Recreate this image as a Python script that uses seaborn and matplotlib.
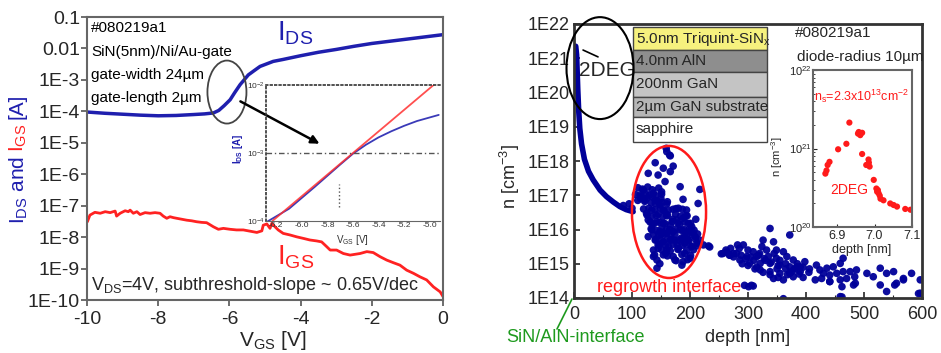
import numpy as np
import pandas as pd
import matplotlib
matplotlib.use("Agg")
import matplotlib.pyplot as plt
import seaborn as sns
from matplotlib.patches import Ellipse, Rectangle, FancyArrowPatch
from matplotlib.lines import Line2D

sns.set_style("ticks")
plt.rcParams["font.family"] = ["Liberation Sans", "DejaVu Sans"]
plt.rcParams["mathtext.default"] = "regular"

# ---------------- left panel data ----------------
ids_v = [-10, -9.5, -9, -8.5, -8, -7.5, -7, -6.7, -6.45, -6.3, -6.15, -5.98, -5.85, -5.7,
         -5.47, -5.3, -5.14, -4.77, -4.5, -4.0, -3.5, -3.0, -2.5, -2.0, -1.5, -1.0, -0.5, 0]
ids_log = [-4.02, -4.06, -4.09, -4.12, -4.14, -4.13, -4.10, -4.08, -4.05, -3.97, -3.82, -3.63,
           -3.40, -3.15, -2.84, -2.70, -2.57, -2.41, -2.35, -2.23, -2.12, -2.03, -1.93, -1.84,
           -1.77, -1.70, -1.63, -1.56]

igs_v = [-9.99, -9.92, -9.78, -9.63, -9.49, -9.35, -9.21, -9.17, -9.07, -8.93, -8.84, -8.79,
         -8.70, -8.60, -8.51, -8.37, -8.23, -8.09, -7.95, -7.86, -7.76, -7.67, -7.57, -7.48,
         -7.34, -7.20, -7.06, -6.92, -6.78, -6.64, -6.45, -6.31, -6.17, -5.98, -5.80, -5.61,
         -5.42, -5.23, -5.09, -5.05, -4.95, -4.86, -4.81, -4.72, -4.63, -4.49, -4.30, -4.11,
         -3.92, -3.74, -3.55, -3.41, -3.27, -3.17, -2.99, -2.80, -2.61, -2.33, -2.14, -1.96,
         -1.77, -1.58, -1.40, -1.21, -1.02, -0.83, -0.65, -0.46, -0.27, -0.08, 0.0]
igs_log = [-7.51, -7.30, -7.21, -7.24, -7.19, -7.22, -7.17, -7.33, -7.24, -7.16, -7.19, -7.14,
           -7.24, -7.19, -7.28, -7.22, -7.24, -7.22, -7.24, -7.33, -7.40, -7.35, -7.38, -7.40,
           -7.43, -7.46, -7.48, -7.51, -7.53, -7.54, -7.67, -7.75, -7.72, -7.75, -7.77, -7.77,
           -7.81, -7.85, -7.80, -7.62, -7.58, -7.72, -7.56, -7.67, -7.77, -7.88, -7.93, -7.99,
           -8.04, -8.09, -8.12, -8.15, -8.30, -8.41, -8.41, -8.52, -8.57, -8.52, -8.46, -8.49,
           -8.62, -8.73, -8.81, -8.89, -9.05, -9.15, -9.26, -9.36, -9.58, -9.74, -9.89]

left_yticks = [1e-1, 1e-2, 1e-3, 1e-4, 1e-5, 1e-6, 1e-7, 1e-8, 1e-9, 1e-10]
left_ylabels = ["0.1", "0.01", "1E-3", "1E-4", "1E-5", "1E-6", "1E-7", "1E-8", "1E-9", "1E-10"]
left_xticks = [-10, -8, -6, -4, -2, 0]

# inset (left) data
ins_fit_v = [-6.23, -4.97]
ins_fit_log = [-4.0, -2.0]
ins_ids_v = [-6.28, -6.1, -5.9, -5.7, -5.6, -5.5, -5.4, -5.3, -5.2, -5.1, -4.93]
ins_ids_log = [-4.02, -3.82, -3.50, -3.17, -3.01, -2.88, -2.77, -2.68, -2.60, -2.53, -2.44]
ins_xticks = [-6.2, -6.0, -5.8, -5.6, -5.4, -5.2, -5.0]

# ---------------- right panel data ----------------
curve_depth = [3, 4.5, 5.5, 6.5, 8, 10, 13, 18, 25, 33, 45, 56, 68, 79, 90, 102]
curve_log = [21.35, 21.1, 20.6, 20.1, 19.5, 18.95, 18.5, 18.05, 17.7, 17.45, 17.15, 16.96,
             16.8, 16.67, 16.58, 16.52]

cluster_depth = [160, 166, 140, 154, 171, 128, 145, 166, 157, 183, 217, 214, 188, 120, 114, 122,
                 137, 151, 140, 148, 154, 134, 125, 171, 180, 194, 128, 143, 154, 166, 177, 188,
                 197, 203, 134, 148, 160, 171, 183, 194, 209, 217, 128, 140, 154, 166, 180, 191,
                 203, 212, 180, 191, 200, 188, 171, 154, 137, 145, 232, 223, 143, 137, 160, 174,
                 186, 145, 160, 175, 190, 165, 150, 135, 185, 200, 125, 135, 160, 170, 155, 195,
                 205, 178, 163, 145, 210, 120, 115, 140, 150, 130, 158, 148, 168, 182, 197,
                 85, 95, 100, 110, 159, 165,
                 110, 118, 127, 135, 146, 106, 116, 124, 141, 151, 122, 133, 143, 152, 161,
                 129, 139, 149, 163, 176, 187, 126, 134, 142, 153, 161, 184, 193,
                 131, 138, 147, 157, 169, 179, 191, 201, 133, 141, 151, 159, 175, 187, 199, 207,
                 137, 146, 156, 167, 174, 191, 204, 213, 141, 151, 161, 173, 186, 197, 209,
                 147, 158, 171, 187, 199, 211, 151, 166, 179, 194, 206, 139, 161, 186, 201,
                 143, 176, 196]
cluster_log = [18.27, 18.15, 17.95, 17.79, 17.85, 17.64, 17.59, 17.69, 17.40, 17.25, 17.17, 16.76,
               16.88, 17.15, 17.01, 16.86, 17.06, 17.10, 16.76, 16.72, 16.57, 16.57, 16.47, 16.59,
               16.62, 16.57, 16.28, 16.23, 16.18, 16.13, 16.28, 16.33, 16.18, 16.08, 15.99, 15.94,
               15.89, 15.94, 15.99, 15.84, 15.79, 15.69, 15.79, 15.69, 15.64, 15.69, 15.69, 15.60,
               15.50, 15.60, 15.45, 15.30, 15.16, 15.06, 15.21, 15.26, 15.21, 15.45, 15.52, 15.55,
               14.87, 15.40, 15.40, 15.11, 14.96, 16.45, 16.40, 16.45, 16.00, 16.00, 15.85, 16.15,
               15.75, 15.95, 16.90, 16.95, 16.75, 16.30, 16.55, 16.40, 15.90, 15.55, 15.50, 15.55,
               16.30, 16.60, 16.90, 16.85, 16.90, 17.00, 15.30, 15.00, 15.70, 16.15, 15.70,
               16.70, 16.75, 16.62, 16.85, 18.37, 18.17,
               17.22, 17.18, 17.24, 17.16, 17.21, 17.02, 16.97, 17.04, 16.99, 17.03, 16.82,
               16.78, 16.84, 16.79, 16.81, 16.62, 16.58, 16.63, 16.57, 16.61, 16.59, 16.42,
               16.38, 16.41, 16.37, 16.43, 16.39, 16.41, 16.22, 16.18, 16.21, 16.17, 16.23,
               16.19, 16.22, 16.18, 16.02, 15.98, 16.03, 15.99, 16.01, 15.97, 16.02, 15.98,
               15.86, 15.83, 15.87, 15.84, 15.86, 15.82, 15.85, 15.87, 15.71, 15.68, 15.72,
               15.69, 15.71, 15.68, 15.72, 15.56, 15.53, 15.57, 15.54, 15.56, 15.52, 15.41,
               15.38, 15.42, 15.39, 15.41, 15.26, 15.23, 15.27, 15.24, 15.11, 15.09, 15.12]

tail_depth = [338, 372, 344, 326, 292, 309, 324, 332, 349, 361, 298, 315, 335, 349, 367, 378,
              286, 303, 321, 338, 355, 372, 390, 398, 321, 338, 355, 372, 390, 344, 361, 378,
              418, 424, 436, 447, 459, 464, 430, 441, 453, 464, 476, 487, 416, 427, 441, 459,
              470, 484, 482, 459, 505, 516, 528, 539, 551, 568, 582, 528, 539, 553, 568, 597,
              597, 301, 309, 234, 254, 263, 275, 361, 462, 294, 306, 594,
              280, 290, 300, 310, 320, 330, 345, 355, 365, 380, 395, 405, 315, 350, 385, 268, 285,
              262, 275, 288, 296, 305, 318, 328, 340, 352, 365, 376, 388, 300, 312, 326, 338,
              352, 368, 395, 406, 270, 282, 257, 269, 384, 441, 462, 485, 556]
tail_log = [16.03, 15.84, 15.64, 15.69, 15.55, 15.35, 15.50, 15.40, 15.40, 15.35, 15.21, 15.21,
            15.21, 15.16, 15.21, 15.11, 15.11, 15.01, 15.01, 15.01, 14.96, 14.91, 14.91, 15.06,
            14.82, 14.77, 14.72, 14.72, 14.77, 14.57, 14.53, 14.62, 14.96, 14.82, 14.87, 14.91,
            15.01, 15.16, 14.72, 14.67, 14.72, 14.77, 14.77, 14.82, 14.53, 14.57, 14.48, 14.53,
            14.57, 14.62, 14.38, 14.04, 14.72, 14.62, 14.87, 14.72, 14.77, 14.57, 14.72, 14.38,
            14.19, 14.38, 14.53, 14.53, 14.14, 14.33, 14.35, 15.49, 15.29, 15.34, 15.20, 13.98,
            14.03, 14.37, 14.37, 14.13,
            15.30, 15.00, 15.40, 15.10, 15.30, 15.10, 15.30, 15.10, 15.00, 14.85, 14.90, 14.75,
            14.90, 14.85, 15.00, 15.25, 15.45,
            15.40, 15.30, 15.25, 15.15, 15.20, 15.25, 15.15, 15.05, 14.95, 14.85, 14.78, 14.70,
            14.95, 14.85, 14.75, 14.68, 14.60, 14.68, 14.60, 14.85, 15.45, 15.55, 15.30, 15.25,
            14.91, 14.48, 14.33, 14.43, 14.43]

right_yticks = [1e14, 1e15, 1e16, 1e17, 1e18, 1e19, 1e20, 1e21, 1e22]
right_ylabels = ["1E14", "1E15", "1E16", "1E17", "1E18", "1E19", "1E20", "1E21", "1E22"]
right_xticks = [0, 100, 200, 300, 400, 500, 600]

# right inset data (2DEG peak)
peak_depth = [6.872, 6.869, 6.875, 6.880, 6.903, 6.925, 6.933, 6.956, 6.962, 6.967, 6.967, 6.978,
              6.984, 6.987, 6.998, 7.005, 7.007, 7.011, 7.016, 7.024, 7.042, 7.051, 7.060, 7.082,
              7.096, 6.958, 6.985, 7.009, 7.014]
peak_log = [20.72, 20.68, 20.79, 20.83, 20.99, 21.06, 21.33, 21.19, 21.17, 21.20, 20.93, 20.79,
            20.86, 20.77, 20.60, 20.49, 20.45, 20.43, 20.36, 20.34, 20.30, 20.28, 20.26, 20.23,
            20.22, 21.21, 20.82, 20.47, 20.40]

layers = ["5.0nm Triquint-SiN$_x$", "4.0nm AlN", "200nm GaN", "2\u00b5m GaN substrate", "sapphire"]
layer_colors = ["#f6f17e", "#8e8e8e", "#c4c4c4", "#b6b6b6", "#ffffff"]

BLUE = "#1f1fae"
RED = "#ff2222"
NAVY = "#000099"

fig = plt.figure(figsize=(9.41, 3.53), dpi=100)

# ================= left panel =================
axL = fig.add_axes([0.0925, 0.150, 0.3783, 0.8017])
df_ids = pd.DataFrame({"V": ids_v, "I": 10.0 ** np.array(ids_log)})
df_igs = pd.DataFrame({"V": igs_v, "I": 10.0 ** np.array(igs_log)})
sns.lineplot(data=df_ids, x="V", y="I", ax=axL, color=BLUE, lw=2.5, sort=False)
sns.lineplot(data=df_igs, x="V", y="I", ax=axL, color=RED, lw=2.0, sort=False)
axL.set_yscale("log")
axL.set_xlim(-10, 0)
axL.set_ylim(1e-10, 1e-1)
axL.set_yticks(left_yticks)
axL.set_yticklabels(left_ylabels)
axL.minorticks_off()
axL.set_xticks(left_xticks)
axL.set_xticklabels([str(t) for t in left_xticks])
axL.tick_params(labelsize=14, direction="out", length=4, width=1.2, color="#555", pad=1)
axL.tick_params(axis="x", pad=4)
for sp in axL.spines.values():
    sp.set_color("#666")
    sp.set_linewidth(1.5)
axL.set_xlabel("")
axL.set_ylabel("")

tkw = dict(transform=axL.transAxes, fontsize=11, va="center", ha="left", color="black")
axL.text(0.011, 0.961, "#080219a1", **tkw)
axL.text(0.011, 0.876, "SiN(5nm)/Ni/Au-gate", **tkw)
axL.text(0.011, 0.795, "gate-width 24\u00b5m", **tkw)
axL.text(0.011, 0.714, "gate-length 2\u00b5m", **tkw)
axL.text(0.534, 0.943, "I$_{DS}$", transform=axL.transAxes, fontsize=20, color=BLUE,
         va="center", ha="left")
axL.text(0.534, 0.152, "I$_{GS}$", transform=axL.transAxes, fontsize=20, color=RED,
         va="center", ha="left")
axL.text(0.011, 0.053, "V$_{DS}$=4V, subthreshold-slope ~ 0.65V/dec", transform=axL.transAxes,
         fontsize=13, va="center", ha="left")
axL.add_patch(Ellipse((0.393, 0.735), 0.1096, 0.2226, transform=axL.transAxes, fill=False,
                      ec="#444", lw=1.3, zorder=5))
axL.add_patch(FancyArrowPatch((-5.76, 10 ** -3.64), (-3.40, 10 ** -5.07), arrowstyle="-|>",
                              mutation_scale=12, lw=1.8, color="black", zorder=6))
fig.text(273 / 941, 1 - 341 / 353, "V$_{GS}$ [V]", fontsize=15, ha="center", va="center")

# left y-label, mixed colours
renderer = fig.canvas.get_renderer()
y0 = 1 - 224 / 353
for s, c in [("I$_{DS}$ and", BLUE), ("I$_{GS}$", RED), ("[A]", BLUE)]:
    t = fig.text(8 / 941, y0, s, rotation=90, color=c, fontsize=15, ha="left", va="bottom")
    bb = t.get_window_extent(renderer)
    y0 += bb.height / fig.bbox.height + 4 / 353

# left inset
axI = fig.add_axes([266 / 941, 1 - 221 / 353, 174 / 941, 136 / 353])
axI.patch.set_alpha(0)
df_fit = pd.DataFrame({"V": ins_fit_v, "I": 10.0 ** np.array(ins_fit_log)})
df_ins = pd.DataFrame({"V": ins_ids_v, "I": 10.0 ** np.array(ins_ids_log)})
sns.lineplot(data=df_ins, x="V", y="I", ax=axI, color="#3a3ab8", lw=1.3, sort=False)
sns.lineplot(data=df_fit, x="V", y="I", ax=axI, color="#ff3030", lw=1.3, sort=False, alpha=0.85)
axI.set_yscale("log")
axI.set_xlim(-6.28, -4.92)
axI.set_ylim(1e-4, 1e-2)
axI.axhline(1e-3, color="#555", lw=1.0, ls=(0, (4, 2, 1, 2)))
axI.plot([-5.71, -5.71], [10 ** -3.8, 10 ** -3.45], color="#555", lw=1.0, ls=":")
axI.set_yticks([1e-4, 1e-3, 1e-2])
axI.set_yticklabels(["10$^{-4}$", "10$^{-3}$", "10$^{-2}$"])
axI.minorticks_off()
axI.set_xticks(ins_xticks)
axI.set_xticklabels(["%.1f" % t for t in ins_xticks])
axI.tick_params(labelsize=6, colors="#333", length=0, pad=1)
axI.spines["right"].set_visible(False)
axI.spines["left"].set_linestyle(":")
axI.spines["top"].set_linestyle(":")
axI.spines["left"].set_color("#333")
axI.spines["top"].set_color("#333")
axI.spines["bottom"].set_color("#666")
axI.spines["left"].set_linewidth(1.2)
axI.spines["top"].set_linewidth(1.2)
axI.set_xlabel("")
axI.set_ylabel("")
fig.text(238 / 941, 1 - 149 / 353, "I$_{DS}$ [A]", rotation=90, fontsize=7, color=BLUE,
         ha="center", va="center", fontweight="bold")
fig.text(352 / 941, 1 - 240 / 353, "V$_{GS}$ [V]", fontsize=7, color="#333", ha="center",
         va="center")

# ================= right panel =================
axR = fig.add_axes([574 / 941, 1 - 298 / 353, 348 / 941, 274 / 353])
df_cl = pd.DataFrame({"d": cluster_depth + tail_depth,
                      "n": 10.0 ** np.array(cluster_log + tail_log)})
df_cv = pd.DataFrame({"d": curve_depth, "n": 10.0 ** np.array(curve_log)})
sns.lineplot(data=df_cv, x="d", y="n", ax=axR, color=NAVY, lw=4.0, sort=False,
             solid_capstyle="round")
sns.scatterplot(data=df_cl, x="d", y="n", ax=axR, color=NAVY, s=30, edgecolor="none",
                linewidth=0, alpha=0.95)
axR.set_yscale("log")
axR.set_xlim(0, 600)
axR.set_ylim(1e14, 1e22)
axR.set_yticks(right_yticks)
axR.set_yticklabels(right_ylabels)
axR.set_xticks(right_xticks)
axR.set_xticks([50, 150, 250, 350, 450, 550], minor=True)
axR.set_xticklabels([str(t) for t in right_xticks])
axR.tick_params(axis="both", which="major", labelsize=13, direction="in", length=4,
                width=1.2, pad=3)
axR.tick_params(axis="x", which="major", pad=6)
axR.tick_params(axis="both", which="minor", direction="in", length=2, width=0.8)
for sp in axR.spines.values():
    sp.set_color("#333")
    sp.set_linewidth(2)
axR.set_xlabel("")
axR.set_ylabel("")

# layer stack
ys = [0.989, 0.905, 0.825, 0.734, 0.661, 0.569]
for i, (lab, col) in enumerate(zip(layers, layer_colors)):
    axR.add_patch(Rectangle((0.1695, ys[i + 1]), 0.385, ys[i] - ys[i + 1],
                            transform=axR.transAxes, fc=col, ec="#444", lw=1.0, zorder=4,
                            clip_on=False))
    axR.text(0.178, (ys[i] + ys[i + 1]) / 2, lab, transform=axR.transAxes, fontsize=11,
             va="center", ha="left", zorder=5)

axR.text(0.635, 0.967, "#080219a1", transform=axR.transAxes, fontsize=11, va="center")
axR.text(0.641, 0.880, "diode-radius 10\u00b5m", transform=axR.transAxes, fontsize=11,
         va="center")
axR.text(0.095, 0.832, "2DEG", transform=axR.transAxes, fontsize=15, va="center",
         ha="center", zorder=6)
axR.add_line(Line2D([0.026, 0.069], [0.905, 0.880], transform=axR.transAxes, color="black",
                    lw=1.2, zorder=6))
axR.add_patch(Ellipse((0.0747, 0.839), 0.1925, 0.372, transform=axR.transAxes, fill=False,
                      ec="black", lw=1.5, zorder=6, clip_on=False))
axR.add_patch(Ellipse((0.273, 0.314), 0.213, 0.482, transform=axR.transAxes, fill=False,
                      ec="#ff1a1a", lw=1.8, zorder=6))
axR.text(0.273, 0.040, "regrowth interface", transform=axR.transAxes, fontsize=13,
         color="#ff1a1a", ha="center", va="center", zorder=7)
fig.text(575 / 941, 1 - 338 / 353, "SiN/AlN-interface", fontsize=13, color="#1e9a1e",
         ha="center", va="center")
fig.add_artist(Line2D([557 / 941, 572 / 941], [1 - 329 / 353, 1 - 299 / 353],
                      color="#1e9a1e", lw=1.2))
fig.text(748 / 941, 1 - 338 / 353, "depth [nm]", fontsize=13, ha="center", va="center")
fig.text(510 / 941, 1 - 177 / 353, "n [cm$^{-3}$]", fontsize=13, rotation=90, ha="center",
         va="center")

# right inset
axJ = fig.add_axes([813 / 941, 1 - 227 / 353, 99 / 941, 157 / 353])
df_pk = pd.DataFrame({"d": peak_depth, "n": 10.0 ** np.array(peak_log)})
sns.scatterplot(data=df_pk, x="d", y="n", ax=axJ, color="#ff1a1a", s=20, edgecolor="none",
                linewidth=0)
axJ.set_yscale("log")
axJ.set_xlim(6.836, 7.1)
axJ.set_ylim(1e20, 1e22)
axJ.set_yticks([1e20, 1e21, 1e22])
axJ.set_yticklabels(["10$^{20}$", "10$^{21}$", "10$^{22}$"])
axJ.set_xticks([6.9, 7.0, 7.1])
axJ.set_xticklabels(["6.9", "7.0", "7.1"])
axJ.tick_params(axis="y", which="major", labelsize=8, direction="in", length=3, pad=1)
axJ.tick_params(axis="y", which="minor", direction="in", length=1.5)
axJ.tick_params(axis="x", labelsize=9, direction="in", length=2, pad=2)
for sp in axJ.spines.values():
    sp.set_color("#666")
    sp.set_linewidth(1.5)
axJ.set_xlabel("")
axJ.set_ylabel("")
axJ.text(0.01, 0.83, "n$_s$=2.3x10$^{13}$cm$^{-2}$", transform=axJ.transAxes, fontsize=9,
         color="#ff1a1a", va="center", ha="left")
axJ.text(0.17, 0.235, "2DEG", transform=axJ.transAxes, fontsize=10, color="#ff1a1a",
         va="center", ha="left")
fig.text(862 / 941, 1 - 250 / 353, "depth [nm]", fontsize=9, ha="center", va="center")
fig.text(777 / 941, 1 - 157 / 353, "n [cm$^{-3}$]", fontsize=8, rotation=90, ha="center",
         va="center")

fig.savefig("out.png", dpi=100)
